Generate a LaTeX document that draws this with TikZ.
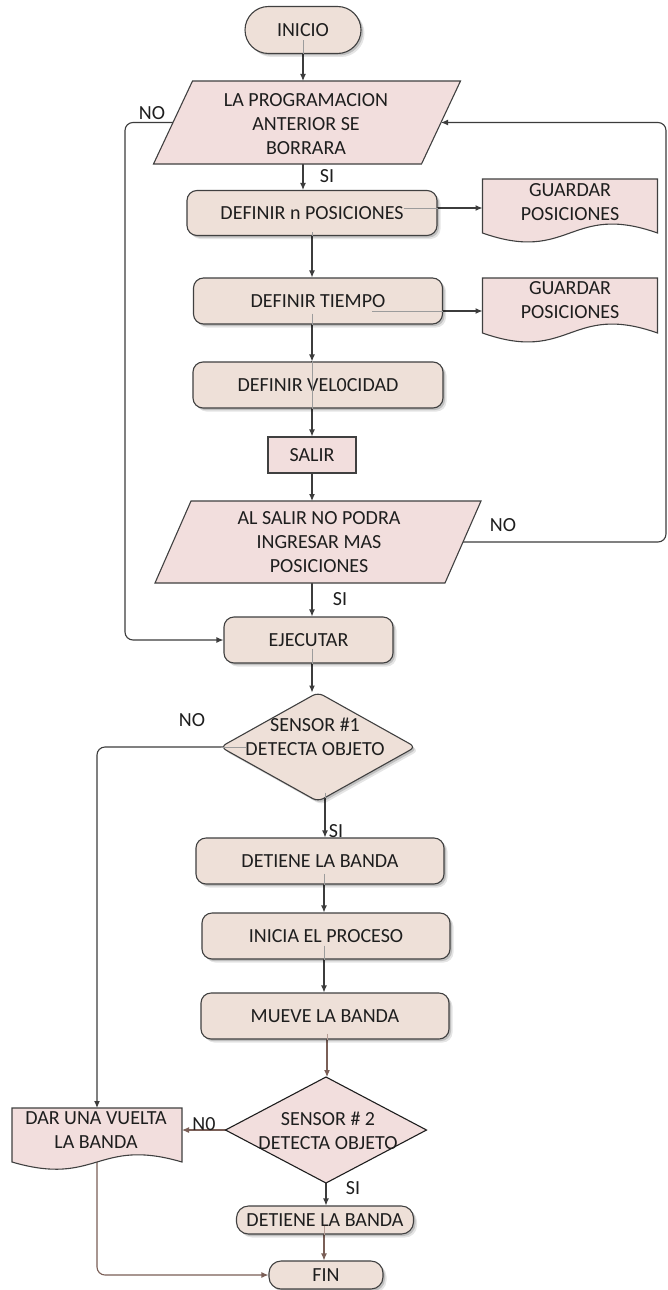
\documentclass[tikz,border=0pt]{standalone}
\usepackage{fontspec}
\setmainfont{Carlito}
\usetikzlibrary{calc,arrows.meta,shadows}
\pgfdeclarelayer{paper}
\pgfdeclarelayer{links}
\pgfdeclarelayer{shapes}
\pgfsetlayers{paper,links,shapes,main}

\definecolor{ink}{HTML}{1E1E1E}
\definecolor{edge}{HTML}{404040}
\definecolor{beige}{HTML}{EEE0D8}
\definecolor{rose}{HTML}{F2DEDD}
\definecolor{linegray}{HTML}{3C3C3C}
\definecolor{umber}{HTML}{7A5F57}
\definecolor{ghostgray}{HTML}{9C9C9C}
\definecolor{ghostumber}{HTML}{B49C94}

\tikzset{
  txt/.style={font=\fontsize{20}{24}\selectfont, text=ink, align=center, inner sep=0pt},
  softshadow/.style={
      drop shadow={shadow xshift=3.5pt, shadow yshift=-3.5pt, opacity=0.10, fill=black},
      drop shadow={shadow xshift=2pt, shadow yshift=-2pt, opacity=0.16, fill=black}},
  proc/.style={txt, draw=edge, line width=1.1pt, fill=beige, rounded corners=10pt,
      minimum height=46pt, softshadow},
  geom/.style={inner sep=0pt, outer sep=0pt},
  inshape/.style={draw=edge, line width=1.1pt, fill=rose},
  wire/.style={draw=linegray, line width=1.1pt, -{Latex[length=7pt,width=6pt]}},
  brownwire/.style={wire, draw=umber},
  ghost/.style={draw=ghostgray, line width=0.8pt},
  brownghost/.style={draw=ghostumber, line width=0.8pt},
  lbl/.style={txt},
}

% slanted input/output box around an empty frame node
\newcommand\slantbox[2]{%
  \begin{pgfonlayer}{shapes}
    \draw[inshape] ($(#1.north west)+(#2,0)$) -- ($(#1.north east)+(#2,0)$)
      -- ($(#1.south east)+(-#2,0)$) -- ($(#1.south west)+(-#2,0)$) -- cycle;
  \end{pgfonlayer}}

% document symbol with a wavy lower edge
\newcommand\wavedoc[2]{%
  \begin{pgfonlayer}{shapes}
    \draw[inshape] (#1.south west) -- (#1.north west) -- (#1.north east) -- (#1.south east)
      .. controls ($(#1.south)+(0,-#2)$) and ($(#1.south)+(0,#2)$) .. (#1.south west) -- cycle;
  \end{pgfonlayer}}

% decision rhombus through the four side anchors of a frame node
\newcommand\rhomb[2]{%
  \begin{pgfonlayer}{shapes}
    \draw[#2] (#1.north) -- (#1.east) -- (#1.south) -- (#1.west) -- cycle;
  \end{pgfonlayer}}

\begin{document}
\begin{tikzpicture}[x=1pt,y=-1pt]
\begin{pgfonlayer}{paper}
  \fill[white] (0,0) rectangle (668,1290);
\end{pgfonlayer}
\useasboundingbox (0,0) rectangle (668,1290);

% ---------- nodes ----------
\node[proc, rounded corners=23.5pt, minimum width=116pt, minimum height=47pt] (inicio) at (303,30) {INICIO};

\node[geom, minimum width=268pt, minimum height=83pt] (p1) at (307,122.5) {};
\node[txt] (p1t) at (306,124) {LA PROGRAMACION\\ANTERIOR SE\\BORRARA};

\node[proc, minimum width=250pt, minimum height=45pt] (defn) at (312,213) {DEFINIR n POSICIONES};
\node[geom, minimum width=175pt, minimum height=54pt] (g1) at (570,206) {};
\node[txt] (g1t) at (570,202) {GUARDAR\\POSICIONES};

\node[proc, minimum width=249pt] (tiempo) at (318,301) {DEFINIR TIEMPO};
\node[geom, minimum width=175pt, minimum height=55pt] (g2) at (570,305.5) {};
\node[txt] (g2t) at (570,300) {GUARDAR\\POSICIONES};

\node[proc, minimum width=250pt] (vel) at (318,385) {DEFINIR VEL0CIDAD};

\node[txt, draw=edge, line width=1.1pt, fill=rose, minimum width=88pt, minimum height=36pt] (salir) at (312,455) {SALIR};

\node[geom, minimum width=290pt, minimum height=82pt] (p2) at (318,542) {};
\node[txt] (p2t) at (319,542) {AL SALIR NO PODRA\\INGRESAR MAS\\POSICIONES};

\node[proc, minimum width=169pt] (ejec) at (308.5,640) {EJECUTAR};

\node[geom, minimum width=195pt, minimum height=109pt] (d1) at (318,747) {};
\node[txt] (d1t) at (315,736.5) {SENSOR \#1\\DETECTA OBJETO};

\node[proc, minimum width=248pt] (det1) at (320,861) {DETIENE LA BANDA};
\node[proc, minimum width=248pt] (inicia) at (326,936) {INICIA EL PROCESO};
\node[proc, minimum width=248pt] (mueve) at (325,1016) {MUEVE LA BANDA};

\node[geom, minimum width=201pt, minimum height=106pt] (d2) at (326,1130) {};
\node[txt] (d2t) at (328,1131) {SENSOR \# 2\\DETECTA OBJETO};

\node[geom, minimum width=170pt, minimum height=54pt] (dv) at (97,1135) {};
\node[txt] (dvt) at (96,1130) {DAR UNA VUELTA\\LA BANDA};

\node[proc, minimum width=177pt, minimum height=28pt, rounded corners=12pt] (det2) at (325,1220) {DETIENE LA BANDA};
\node[proc, minimum width=114pt, minimum height=28pt, rounded corners=12pt] (fin) at (326,1275) {FIN};

% ---------- outlined shapes ----------
\slantbox{p1}{19.5}
\slantbox{p2}{18}
\wavedoc{g1}{31}
\wavedoc{g2}{31}
\wavedoc{dv}{25}
\rhomb{d1}{draw=edge, line width=1.1pt, fill=beige, rounded corners=6pt, softshadow}
\rhomb{d2}{draw=ink, line width=1.1pt, fill=rose}

% ---------- connector start points ----------
\coordinate (s0)  at ($(inicio.south)+(0,-14)$);
\coordinate (s1)  at ($(defn.east)+(-34,-5)$);
\coordinate (s1b) at ($(defn.south)+(0,-4)$);
\coordinate (s2)  at ($(tiempo.east)+(-71,10)$);
\coordinate (s3)  at ($(tiempo.south)+(-6,-11)$);
\coordinate (s4)  at ($(vel.north)+(-6,0)$);
\coordinate (s5)  at ($(ejec.south)+(3.5,-15)$);
\coordinate (s6)  at ($(d1.west)+(25,0)$);
\coordinate (s7)  at ($(d1.south)+(7,-9)$);
\coordinate (s8)  at ($(det1.south)+(4,-11)$);
\coordinate (s9)  at ($(inicia.south)+(-2,-14)$);
\coordinate (s10) at ($(mueve.south)+(2,-6)$);
\coordinate (s11) at ($(det2.south)+(-1,-9)$);

% ---------- connectors ----------
\begin{pgfonlayer}{links}
  \draw[wire] (s0) -- (s0 |- p1.north);
  \draw[wire] (s0 |- p1.south) -- (s0 |- defn.north);
  \draw[wire] (s1) -- (s1 -| g1.west);
  \draw[wire] (s1b) -- (s1b |- tiempo.north);
  \draw[wire] (s2) -- (s2 -| g2.west);
  \draw[wire] (s3) -- (s3 |- vel.north);
  \draw[wire] (s4) -- (s4 |- salir.north);
  \draw[wire] (salir.south) -- (salir.south |- p2.north);
  \draw[wire] (salir.south |- p2.south) -- (salir.south |- ejec.north);
  \draw[wire, rounded corners=8pt] (p2.east) -- ++(203,0) |- (p1.east);
  \draw[wire, rounded corners=8pt] (p1.west) -- ++(-48,0) |- (ejec.west);
  \draw[wire] (s5) -- (s5 |- d1.north);
  \draw[wire, rounded corners=8pt] (s6) -| (dv.north);
  \draw[wire] (s7) -- (s7 |- det1.north);
  \draw[wire] (s8) -- (s8 |- inicia.north);
  \draw[wire] (s9) -- (s9 |- mueve.north);
  \draw[brownwire] (s10) -- (s10 |- d2.north);
  \draw[brownwire] (d2.west) -- (d2.west -| dv.east);
  \draw[wire] (d2.south) -- (d2.south |- det2.north);
  \draw[brownwire] (s11) -- (s11 |- fin.north);
  \draw[brownwire, rounded corners=8pt] (dv.south) |- (fin.west);
\end{pgfonlayer}

% faint traces of the connectors seen through the boxes
\draw[ghost] (s0) -- (inicio.south);
\draw[ghost] (s1) -- (s1 -| defn.east);
\draw[ghost] (s1b) -- (defn.south);
\draw[ghost] (s2) -- (s2 -| tiempo.east);
\draw[ghost] (s3) -- (s3 |- tiempo.south);
\draw[ghost] (s4) -- (s4 |- vel.south);
\draw[ghost] (s5) -- (s5 |- ejec.south);
\draw[ghost] (s6) -- (d1.west);
\draw[ghost] (s7) -- ++(0,5);
\draw[ghost] (s8) -- (s8 |- det1.south);
\draw[ghost] (s9) -- (s9 |- inicia.south);
\draw[brownghost] (s10) -- (s10 |- mueve.south);
\draw[brownghost] (s11) -- (s11 |- det2.south);

% ---------- branch labels ----------
\node[lbl] (no1) at (152,113) {NO};
\node[lbl] (si1) at (327,176) {SI};
\node[lbl] (no2) at (503,525) {NO};
\node[lbl] (si2) at (340,599) {SI};
\node[lbl] (no3) at (192,720) {NO};
\node[lbl] (si3) at (336,831) {SI};
\node[lbl] (no4) at (204,1124) {N0};
\node[lbl] (si4) at (353,1188) {SI};
\end{tikzpicture}
\end{document}
